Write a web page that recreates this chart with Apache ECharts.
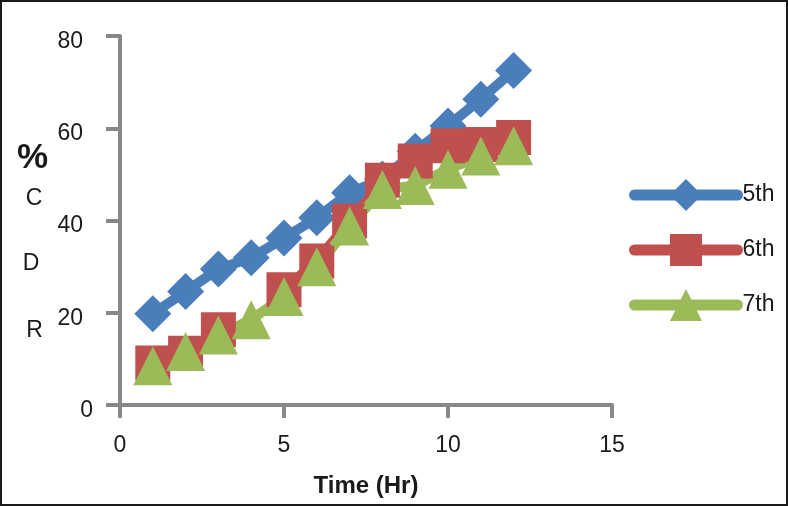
<!DOCTYPE html>
<html><head><meta charset="utf-8">
<script src="https://cdn.jsdelivr.net/npm/echarts@6/dist/echarts.min.js"></script>
<style>html,body{margin:0;padding:0;background:#fff}#c{width:788px;height:506px}</style>
</head><body><div id="c"></div>
<script>
const times = [1,2,3,4,5,6,7,8,9,10,11,12];
const s5 = [19.8,24.6,29.5,31.9,36.2,40.6,46,49,55,60.5,66.3,72.5];
const s6 = [9.1,11.2,16.3,null,25,31.2,39.9,48.7,52.9,56.2,56.5,58];
const s7 = [8.5,11.6,15.2,18.5,23.5,30,38.8,46.7,47.6,51.1,54,56.2];
const seriesNames = ['5th','6th','7th'];
const yTitle = ['%','C','D','R'];

const chart = echarts.init(document.getElementById('c'));
const mk = (name, vals, color, symbol, size) => ({
  name, type:'line', data: times.map((t,i)=>[t, vals[i]]),
  symbol, symbolSize: size, showSymbol:true, connectNulls:false,
  lineStyle:{color, width:10, cap:'round'}, itemStyle:{color},
  emphasis:{disabled:true}, animation:false
});
const axisColor = '#888888';
chart.setOption({
  animation:false,
  grid:{left:120, right:176, top:36, bottom:101},
  xAxis:{type:'value', min:0, max:15, interval:5,
    name:'Time (Hr)', nameLocation:'middle', nameGap:69,
    nameTextStyle:{fontFamily:'Liberation Sans', fontSize:24, fontWeight:'bold', color:'#1a1a1a'},
    axisLine:{show:true, lineStyle:{color:axisColor, width:4}},
    axisTick:{show:true, length:13, lineStyle:{color:axisColor, width:4}},
    axisLabel:{fontFamily:'Liberation Sans', fontSize:23, color:'#1a1a1a', margin:29},
    splitLine:{show:false}},
  yAxis:{type:'value', min:0, max:80, interval:20,
    axisLine:{show:true, lineStyle:{color:axisColor, width:4}},
    axisTick:{show:true, length:14, lineStyle:{color:axisColor, width:4}},
    axisLabel:{fontFamily:'Liberation Sans', fontSize:23, color:'#1a1a1a', margin:27,
      formatter: v => v === 0 ? '{z|' + v + '}' : '{a|' + v + '}',
      rich:{
        a:{fontFamily:'Liberation Sans', fontSize:23, color:'#1a1a1a', padding:[11,10,0,0]},
        z:{fontFamily:'Liberation Sans', fontSize:23, color:'#1a1a1a', padding:[12,0,0,0]}
      }},
    splitLine:{show:false}},
  legend:{orient:'vertical', left:624, top:174, itemWidth:103, itemHeight:40, itemGap:23,
    data: seriesNames,
    lineStyle:{width:11, cap:'round'},
    textStyle:{fontFamily:'Liberation Sans', fontSize:23, color:'#1a1a1a'}},
  series:[
    mk(seriesNames[0], s5, '#4a7ebb', 'diamond', 37),
    mk(seriesNames[1], s6, '#c0504d', 'rect', 35),
    mk(seriesNames[2], s7, '#9bbb59', 'triangle', 39)
  ],
  graphic:[
    {type:'rect', shape:{x:1,y:1,width:786,height:504}, style:{fill:null, stroke:'#1a1a1a', lineWidth:2}, silent:true},
    {type:'text', x:32.5, y:158, style:{text:yTitle[0], font:'bold 35px "Liberation Sans"', fill:'#1a1a1a', textAlign:'center', textVerticalAlign:'middle'}},
    {type:'text', x:34, y:199, style:{text:yTitle[1], font:'23px "Liberation Sans"', fill:'#1a1a1a', textAlign:'center', textVerticalAlign:'middle'}},
    {type:'text', x:31, y:264, style:{text:yTitle[2], font:'23px "Liberation Sans"', fill:'#1a1a1a', textAlign:'center', textVerticalAlign:'middle'}},
    {type:'text', x:34.5, y:331, style:{text:yTitle[3], font:'23px "Liberation Sans"', fill:'#1a1a1a', textAlign:'center', textVerticalAlign:'middle'}}
  ]
});
</script></body></html>
